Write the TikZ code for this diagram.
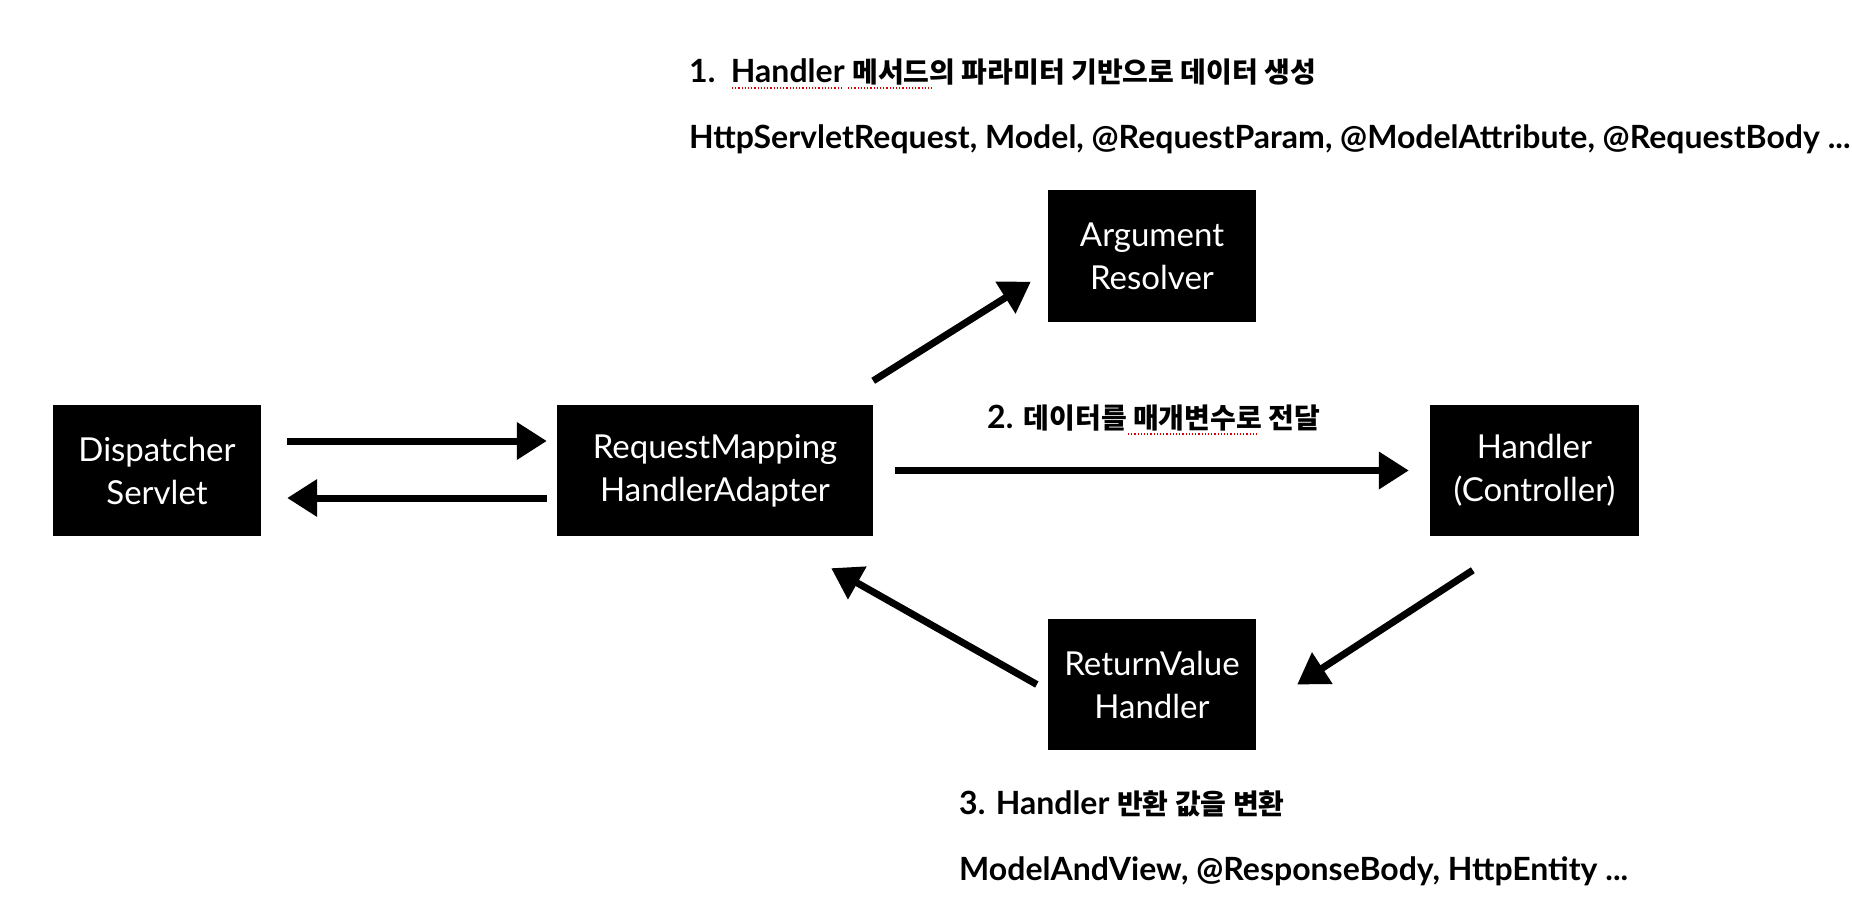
\documentclass[tikz,border=0pt]{standalone}
\usepackage{fontspec}
\setmainfont{Lato}
\newfontfamily\krfont{Noto Sans CJK KR}
\newcommand\kr[1]{{\krfont\fontsize{28}{32}\selectfont #1}}
\usetikzlibrary{arrows.meta}
\begin{document}
\begin{tikzpicture}[x=1pt,y=-1pt,
  box/.style={fill=black,text=white,minimum width=208pt,minimum height=131pt,inner sep=0pt,align=center,font=\fontsize{33}{43}\selectfont},
  arr/.style={line width=7pt,-{Triangle[length=30pt,width=36pt]}},
  lbl/.style={anchor=west,inner sep=0pt,font=\bfseries\fontsize{32}{36}\selectfont},
  spell/.style={red!85!black,line width=1.2pt,dotted}]
\useasboundingbox[fill=white] (0,0) rectangle (1852,912);
\node[box] (ds) at (157,470.5) {Dispatcher\\Servlet};
\node[box,minimum width=316pt] (rm) at (715,470.5) {RequestMapping\\HandlerAdapter};
\node[box] (ar) at (1152,256) {Argument\\Resolver};
\node[box,minimum width=209pt] (hc) at (1534.5,470.5) {Handler\\(Controller)};
\node[box] (rv) at (1152,684.5) {ReturnValue\\Handler};

\draw[arr,shorten <=26pt,shorten >=10pt] ([yshift=29.5pt]ds.east) -- ([yshift=29.5pt]rm.west);
\draw[arr,shorten <=10pt,shorten >=26pt] ([yshift=-27.5pt]rm.west) -- ([yshift=-27.5pt]ds.east);
\draw[arr,shorten <=22pt,shorten >=21pt] (rm.east) -- (hc.west);
\draw[arr] ([yshift=24pt]rm.north east) -- ([xshift=-17pt,yshift=40pt]ar.south west);
\draw[arr] ([xshift=43pt,yshift=-34pt]hc.south west) -- ([xshift=41pt]rv.east);
\draw[arr] ([xshift=-11pt]rv.west) -- ([xshift=-42pt,yshift=-32pt]rm.south east);

\node[lbl] (t1) at (689,72) {1.\ \ Handler \kr{메서드의 파라미터 기반으로 데이터 생성}};
\node[lbl] (t1b) at (689,139.5) {HttpServletRequest, Model, @RequestParam, @ModelAttribute, @RequestBody ...};
\node[lbl] (t2) at (987,418) {2. \kr{데이터를 매개변수로 전달}};
\node[lbl] (t3) at (959,804) {3. Handler \kr{반환 값을 변환}};
\node[lbl] (t3b) at (959,871) {ModelAndView, @ResponseBody, HttpEntity ...};

\draw[spell] (732,88) -- (843,88);
\draw[spell] (848,88) -- (933,88);
\draw[spell] (1128,434) -- (1257,434);
\end{tikzpicture}
\end{document}
